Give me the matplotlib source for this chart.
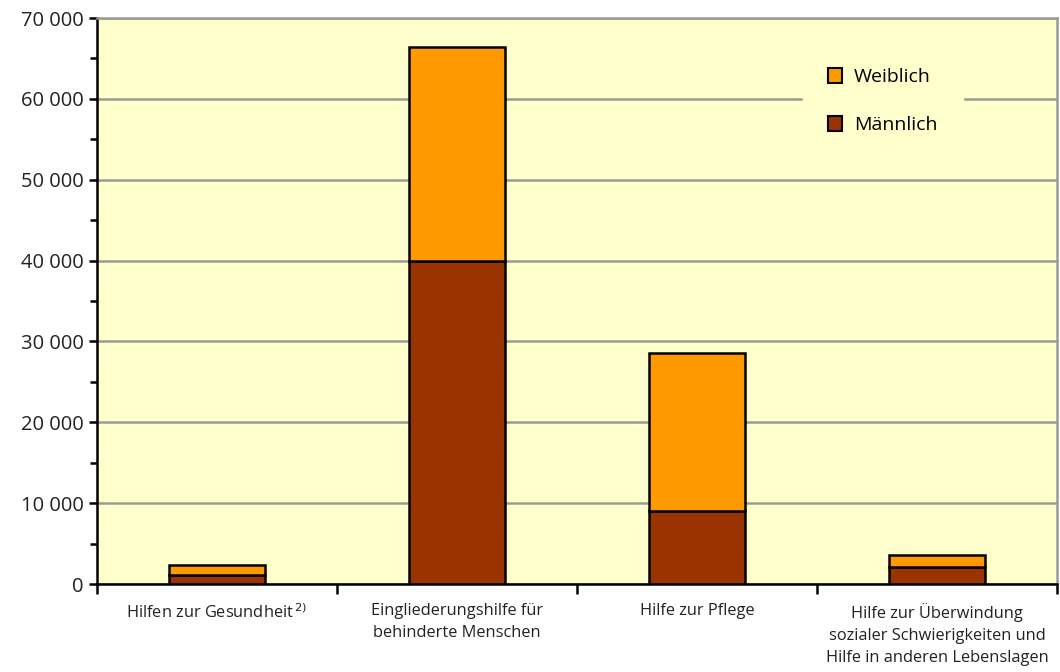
import matplotlib
matplotlib.use("Agg")
import matplotlib.pyplot as plt
from matplotlib.ticker import FuncFormatter, MultipleLocator
import numpy as np

# values
categories = [
    "Hilfen zur Gesundheit$^{\\,2)}$",
    "Eingliederungshilfe für\nbehinderte Menschen",
    "Hilfe zur Pflege",
    "Hilfe zur Überwindung\nsozialer Schwierigkeiten und\nHilfe in anderen Lebenslagen",
]
maennlich = [1100, 40000, 9050, 2100]
weiblich = [1250, 26400, 19550, 1500]

plt.rcParams['font.family'] = ['Open Sans', 'DejaVu Sans']

fig = plt.figure(figsize=(10.6, 6.72), dpi=100)
ax = fig.add_axes([97 / 1060, 1 - 584 / 672, 960 / 1060, 566 / 672])
ax.set_facecolor("#FFFFCC")

x = np.arange(len(categories))
w = 0.4
ax.bar(x, maennlich, w, color="#993300", edgecolor="black", linewidth=1.8, label="Männlich", zorder=3)
ax.bar(x, weiblich, w, bottom=maennlich, color="#FF9900", edgecolor="black", linewidth=1.8, label="Weiblich", zorder=3)

ax.set_xlim(-0.5, len(categories) - 0.5)
ax.set_ylim(0, 70000)
ax.yaxis.set_major_locator(MultipleLocator(10000))
ax.yaxis.set_minor_locator(MultipleLocator(5000))
ax.yaxis.set_major_formatter(FuncFormatter(lambda v, p: f"{int(v):,}".replace(",", " ")))
ax.grid(axis="y", color="#999999", linewidth=1.8, zorder=1)

ax.set_xticks(x)
ax.set_xticklabels(categories, fontsize=11.8, color="#222222", linespacing=1.5)
ax.set_xticks(np.arange(len(categories) + 1) - 0.5, minor=True)
ax.tick_params(axis="x", which="major", length=0, pad=14)
ax.tick_params(axis="x", which="minor", length=7, width=1.8, direction="out")
ax.tick_params(axis="y", which="major", length=6, width=1.8, labelsize=14.5, labelcolor="#222222")
ax.tick_params(axis="y", which="minor", length=5, width=1.8)

for s in ["left", "bottom"]:
    ax.spines[s].set_linewidth(1.8)
    ax.spines[s].set_color("black")
ax.spines["right"].set_color("#999999")
ax.spines["right"].set_linewidth(1.8)
ax.spines["top"].set_color("#999999")
ax.spines["top"].set_linewidth(1.8)

handles, labels = ax.get_legend_handles_labels()
leg = ax.legend(handles[::-1], labels[::-1], loc="upper left", bbox_to_anchor=(0.735, 0.956),
                frameon=True, fancybox=False, facecolor="#FFFFCC", edgecolor="#FFFFCC",
                framealpha=1, fontsize=14, handlelength=0.75, handleheight=0.75,
                labelspacing=1.55, borderpad=1.3, handletextpad=0.6, borderaxespad=0)
leg.set_zorder(5)
for h in leg.legend_handles:
    h.set_linewidth(1.5)

fig.savefig("out.png", dpi=100)
